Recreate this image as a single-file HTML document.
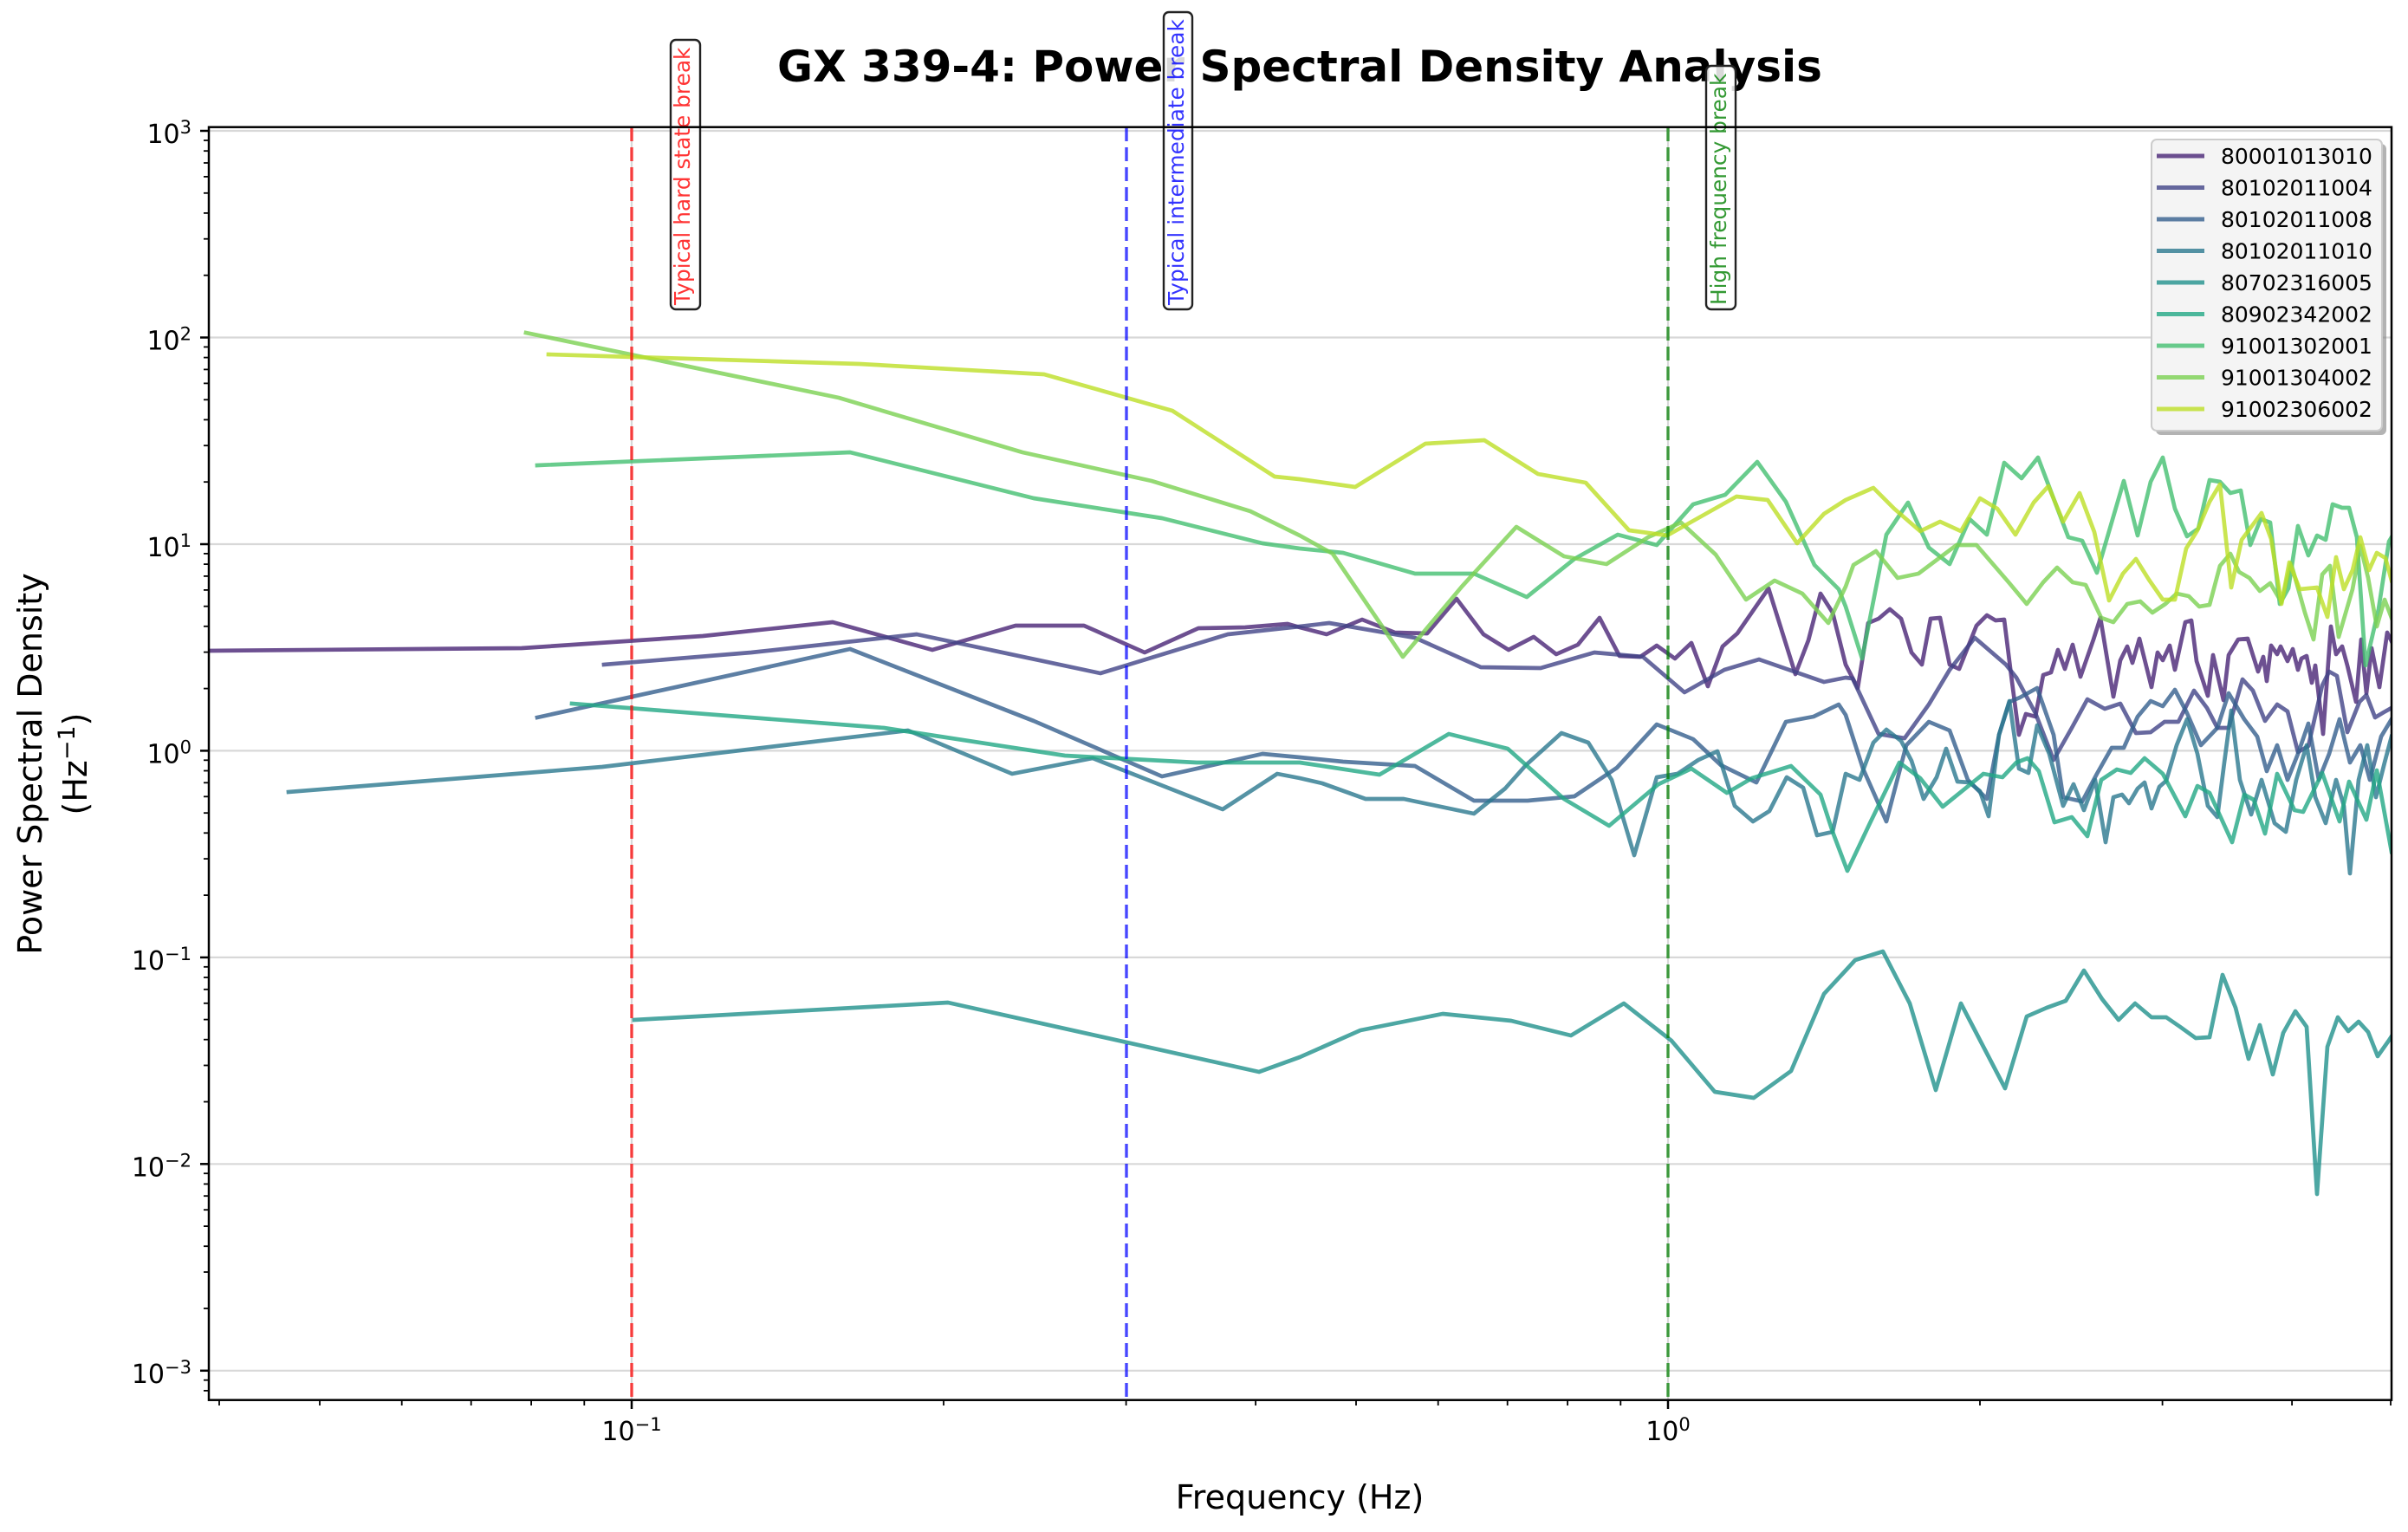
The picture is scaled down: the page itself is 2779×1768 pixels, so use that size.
<!DOCTYPE html>
<html>
<head>
<meta charset="utf-8">
<style>
  html, body { margin: 0; padding: 0; background: #ffffff; }
  body { width: 2779px; height: 1768px; overflow: hidden; }
  svg { display: block; font-family: "DejaVu Sans", "Liberation Sans", sans-serif; }
</style>
</head>
<body>
<svg width="2779" height="1768" viewBox="0 0 2779 1768" xmlns="http://www.w3.org/2000/svg">
  <defs>
    <clipPath id="ax">
      <rect x="241" y="147" width="2519" height="1469"/>
    </clipPath>
  </defs>
  <rect x="0" y="0" width="2779" height="1768" fill="#ffffff"/>

  <!-- Title -->
  <text x="1500" y="94" font-size="50" font-weight="bold" text-anchor="middle" fill="#000000">GX 339-4: Power Spectral Density Analysis</text>

  <!-- Grid -->
  <g stroke="#d8d8d8" stroke-width="2.2" fill="none">
    <line x1="241" y1="151" x2="2760" y2="151"/>
    <line x1="241" y1="389.5" x2="2760" y2="389.5"/>
    <line x1="241" y1="628" x2="2760" y2="628"/>
    <line x1="241" y1="866.4" x2="2760" y2="866.4"/>
    <line x1="241" y1="1104.9" x2="2760" y2="1104.9"/>
    <line x1="241" y1="1343.3" x2="2760" y2="1343.3"/>
    <line x1="241" y1="1581.8" x2="2760" y2="1581.8"/>
    <line x1="729" y1="147" x2="729" y2="1616"/>
    <line x1="1925" y1="147" x2="1925" y2="1616"/>
  </g>

  <!-- Series -->
  <g clip-path="url(#ax)" fill="none" stroke-width="4.7" stroke-opacity="0.8" stroke-linejoin="round" stroke-linecap="square">
    <polyline stroke="#482475" points="241,751 602,748 811,734 961,718 1076,750 1172,722 1251,722 1321,753 1383,725 1437,724 1486,720 1500,724 1531,732 1572,715 1610,730 1647,731 1681,691 1712,732 1741,750 1770,735 1796,755 1821,744 1846,713 1869,757 1893,758 1912,745 1933,760 1952,742 1971,792 1988,746 2005,731 2041,679 2072,778 2087,739 2101,685 2115,707 2130,767 2144,794 2156,719 2168,714 2181,703 2194,714 2206,753 2218,767 2228,714 2239,713 2250,767 2261,772 2281,722 2293,710 2303,716 2313,715 2322,787 2330,848 2338,824 2349,827 2358,779 2367,776 2375,750 2383,772 2392,744 2401,781 2416,738 2424,713 2439,804 2447,762 2455,746 2461,765 2469,737 2483,793 2490,753 2496,762 2504,745 2510,773 2522,718 2529,716 2535,763 2548,803 2554,756 2566,808 2572,756 2583,738 2594,737 2606,775 2612,758 2616,786 2621,745 2628,755 2632,746 2640,763 2646,749 2652,773 2656,760 2662,757 2668,788 2672,768 2681,847 2690,723 2696,755 2703,746 2709,768 2719,810 2725,738 2731,800 2737,748 2746,793 2755,730 2760,740"/>
    <polyline stroke="#414487" points="697,767 867,753 1058,732 1270,777 1417,732 1500,723 1534,719 1633,736 1709,770 1778,771 1840,753 1896,758 1944,799 1990,773 2030,761 2105,787 2130,782 2138,783 2168,847 2198,852 2226,813 2250,773 2279,736 2315,767 2327,782 2349,823 2370,877 2391,840 2409,807 2429,818 2447,812 2465,846 2482,845 2498,833 2514,833 2532,797 2547,817 2559,840 2572,840 2588,784 2600,797 2614,832 2628,813 2640,821 2652,868 2664,861 2680,791 2688,775 2697,780 2709,845 2723,810 2731,802 2741,828 2751,822 2760,817"/>
    <polyline stroke="#355f8d" points="620,828 981,749 1193,832 1341,896 1457,870 1500,874 1550,879 1633,884 1701,924 1763,924 1817,919 1866,886 1912,836 1954,853 1986,883 2027,903 2061,833 2093,827 2122,813 2130,825 2150,887 2177,948 2200,860 2226,833 2250,843 2271,900 2293,922 2307,848 2319,810 2331,805 2351,794 2370,848 2381,920 2403,925 2420,893 2437,863 2451,863 2467,827 2482,809 2496,815 2510,796 2524,823 2540,860 2559,840 2572,800 2590,830 2605,850 2616,890 2628,860 2640,900 2652,870 2664,835 2676,900 2688,870 2700,830 2712,880 2724,860 2735,900 2748,850 2760,830"/>
    <polyline stroke="#2a788e" points="333,914 695,885 1048,843 1168,893 1261,875 1411,934 1474,893 1500,898 1526,904 1576,922 1620,922 1701,939 1737,910 1761,883 1802,846 1833,857 1860,900 1886,987 1912,897 1936,893 1960,877 1982,867 2002,930 2023,948 2042,936 2062,897 2081,909 2097,964 2115,960 2130,893 2146,900 2162,857 2177,842 2194,855 2206,878 2220,922 2235,897 2246,864 2259,902 2273,903 2285,913 2295,942 2307,848 2319,809 2330,887 2341,892 2351,837 2365,870 2381,930 2393,905 2405,935 2418,900 2430,972 2439,920 2449,917 2457,927 2467,910 2475,903 2483,933 2492,908 2500,901 2512,860 2524,830 2536,870 2548,930 2559,943 2567,880 2575,820 2585,900 2598,940 2610,900 2625,950 2638,960 2650,900 2662,860 2672,920 2684,950 2696,900 2705,930 2712,1008 2722,900 2732,860 2742,920 2752,880 2760,850"/>
    <polyline stroke="#21918c" points="732,1177 1094,1157 1453,1237 1500,1220 1570,1189 1665,1170 1744,1178 1813,1195 1874,1158 1929,1201 1979,1260 2024,1267 2067,1236 2105,1147 2130,1120 2141,1108 2173,1098 2204,1158 2234,1258 2263,1158 2289,1208 2314,1256 2339,1173 2362,1163 2384,1155 2405,1120 2426,1153 2445,1177 2464,1158 2483,1174 2500,1174 2516,1185 2534,1198 2550,1197 2565,1125 2580,1163 2595,1222 2608,1183 2623,1240 2635,1192 2649,1167 2662,1185 2674,1378 2686,1208 2698,1174 2710,1190 2722,1179 2733,1191 2744,1219 2756,1202 2760,1196"/>
    <polyline stroke="#22a884" points="660,812 1020,840 1229,872 1381,880 1500,880 1592,894 1672,847 1740,864 1805,922 1857,953 1914,905 1952,887 1993,915 2022,898 2067,884 2101,917 2115,960 2132,1005 2158,950 2192,880 2216,898 2242,931 2289,893 2311,897 2327,880 2340,875 2353,890 2371,949 2391,943 2409,965 2425,900 2443,888 2459,892 2475,875 2496,893 2522,942 2536,907 2550,915 2576,972 2590,917 2601,923 2614,962 2628,893 2648,935 2658,937 2680,892 2700,948 2711,902 2731,946 2743,889 2760,983"/>
    <polyline stroke="#44bf70" points="620,537 981,522 1193,575 1341,598 1457,627 1500,633 1550,638 1633,662 1701,662 1762,689 1817,645 1867,617 1912,629 1954,582 1991,571 2028,533 2061,579 2094,652 2122,680 2130,700 2149,760 2177,617 2202,580 2226,632 2250,651 2273,599 2293,617 2313,534 2333,552 2352,528 2387,620 2403,624 2420,661 2451,555 2467,618 2482,556 2496,528 2510,587 2524,619 2537,610 2550,554 2562,556 2574,569 2586,566 2597,629 2609,599 2620,603 2631,697 2641,679 2652,607 2664,641 2674,618 2684,623 2692,582 2703,586 2711,586 2720,620 2730,768 2745,703 2757,625 2760,620"/>
    <polyline stroke="#7ad151" points="607,384 968,459 1180,522 1329,555 1443,590 1500,618 1538,639 1619,758 1687,677 1750,608 1805,642 1854,651 1902,620 1940,603 1980,640 2015,692 2048,670 2080,685 2110,719 2130,677 2139,652 2165,636 2190,667 2214,662 2258,629 2281,629 2319,673 2339,697 2358,672 2374,655 2392,672 2407,675 2425,713 2439,718 2455,697 2470,694 2484,707 2499,697 2512,685 2526,688 2538,700 2550,698 2562,653 2574,639 2584,660 2596,667 2608,682 2620,673 2633,695 2644,650 2660,707 2670,738 2680,663 2689,653 2699,735 2715,680 2724,630 2733,667 2743,723 2752,692 2760,713"/>
    <polyline stroke="#bddf26" points="633,409 992,420 1205,432 1353,474 1471,550 1500,553 1564,562 1645,512 1713,508 1775,547 1830,557 1880,612 1924,618 2004,573 2040,577 2074,627 2105,593 2130,577 2162,563 2186,587 2216,613 2239,602 2263,613 2285,575 2305,587 2326,617 2347,580 2364,561 2381,602 2400,569 2417,614 2434,693 2450,662 2465,645 2480,669 2496,692 2510,692 2523,633 2536,612 2550,579 2562,559 2575,678 2587,623 2610,592 2621,622 2633,697 2642,649 2654,680 2674,678 2686,712 2696,643 2705,680 2715,658 2724,620 2734,658 2743,638 2753,644 2760,670"/>
  </g>

  <!-- Break lines -->
  <g fill="none" stroke-width="3.4" stroke-dasharray="16,7">
    <line x1="729" y1="147" x2="729" y2="1616" stroke="#ff0000" stroke-opacity="0.72"/>
    <line x1="1300" y1="147" x2="1300" y2="1616" stroke="#0000ff" stroke-opacity="0.72"/>
    <line x1="1925" y1="147" x2="1925" y2="1616" stroke="#008000" stroke-opacity="0.72"/>
  </g>

  <!-- Annotation boxes -->
  <g stroke="#222222" stroke-width="2.4" fill="#ffffff" fill-opacity="0.85">
    <rect x="774" y="46" width="34" height="311" rx="6"/>
    <rect x="1343" y="14" width="33" height="343" rx="6"/>
    <rect x="1969" y="76" width="34" height="281" rx="6"/>
  </g>
  <g font-size="24.8">
    <text transform="translate(796,352) rotate(-90)" fill="#ff0000" fill-opacity="0.8">Typical hard state break</text>
    <text transform="translate(1366,352) rotate(-90)" fill="#0000ff" fill-opacity="0.8">Typical intermediate break</text>
    <text transform="translate(1992,352) rotate(-90)" fill="#008000" fill-opacity="0.8">High frequency break</text>
  </g>

  <!-- Spines -->
  <rect x="241" y="146.7" width="2519" height="1469" fill="none" stroke="#000000" stroke-width="2.5"/>

  <!-- Y ticks -->
  <g stroke="#000000" stroke-width="2.5">
    <line x1="231" y1="151" x2="241" y2="151"/>
    <line x1="231" y1="389.5" x2="241" y2="389.5"/>
    <line x1="231" y1="628" x2="241" y2="628"/>
    <line x1="231" y1="866.4" x2="241" y2="866.4"/>
    <line x1="231" y1="1104.9" x2="241" y2="1104.9"/>
    <line x1="231" y1="1343.3" x2="241" y2="1343.3"/>
    <line x1="231" y1="1581.8" x2="241" y2="1581.8"/>
  </g>
  <g stroke="#000000" stroke-width="1.8">
    <line x1="235" y1="317.7" x2="241" y2="317.7"/><line x1="235" y1="275.7" x2="241" y2="275.7"/><line x1="235" y1="245.9" x2="241" y2="245.9"/><line x1="235" y1="222.8" x2="241" y2="222.8"/><line x1="235" y1="203.9" x2="241" y2="203.9"/><line x1="235" y1="188" x2="241" y2="188"/><line x1="235" y1="174.2" x2="241" y2="174.2"/><line x1="235" y1="162" x2="241" y2="162"/>
    <line x1="235" y1="556.2" x2="241" y2="556.2"/><line x1="235" y1="514.2" x2="241" y2="514.2"/><line x1="235" y1="484.4" x2="241" y2="484.4"/><line x1="235" y1="461.3" x2="241" y2="461.3"/><line x1="235" y1="442.4" x2="241" y2="442.4"/><line x1="235" y1="426.4" x2="241" y2="426.4"/><line x1="235" y1="412.6" x2="241" y2="412.6"/><line x1="235" y1="400.4" x2="241" y2="400.4"/>
    <line x1="235" y1="794.6" x2="241" y2="794.6"/><line x1="235" y1="752.6" x2="241" y2="752.6"/><line x1="235" y1="722.8" x2="241" y2="722.8"/><line x1="235" y1="699.7" x2="241" y2="699.7"/><line x1="235" y1="680.9" x2="241" y2="680.9"/><line x1="235" y1="664.9" x2="241" y2="664.9"/><line x1="235" y1="651.1" x2="241" y2="651.1"/><line x1="235" y1="638.9" x2="241" y2="638.9"/>
    <line x1="235" y1="1033.1" x2="241" y2="1033.1"/><line x1="235" y1="991.1" x2="241" y2="991.1"/><line x1="235" y1="961.3" x2="241" y2="961.3"/><line x1="235" y1="938.2" x2="241" y2="938.2"/><line x1="235" y1="919.3" x2="241" y2="919.3"/><line x1="235" y1="903.3" x2="241" y2="903.3"/><line x1="235" y1="889.5" x2="241" y2="889.5"/><line x1="235" y1="877.3" x2="241" y2="877.3"/>
    <line x1="235" y1="1271.5" x2="241" y2="1271.5"/><line x1="235" y1="1229.5" x2="241" y2="1229.5"/><line x1="235" y1="1199.7" x2="241" y2="1199.7"/><line x1="235" y1="1176.6" x2="241" y2="1176.6"/><line x1="235" y1="1157.8" x2="241" y2="1157.8"/><line x1="235" y1="1141.8" x2="241" y2="1141.8"/><line x1="235" y1="1128" x2="241" y2="1128"/><line x1="235" y1="1115.8" x2="241" y2="1115.8"/>
    <line x1="235" y1="1510" x2="241" y2="1510"/><line x1="235" y1="1468" x2="241" y2="1468"/><line x1="235" y1="1438.2" x2="241" y2="1438.2"/><line x1="235" y1="1415.1" x2="241" y2="1415.1"/><line x1="235" y1="1396.2" x2="241" y2="1396.2"/><line x1="235" y1="1380.2" x2="241" y2="1380.2"/><line x1="235" y1="1366.4" x2="241" y2="1366.4"/><line x1="235" y1="1354.2" x2="241" y2="1354.2"/>
    <line x1="235" y1="1592.7" x2="241" y2="1592.7"/><line x1="235" y1="1604.9" x2="241" y2="1604.9"/>
  </g>

  <!-- X ticks -->
  <g stroke="#000000" stroke-width="2.5">
    <line x1="729" y1="1616" x2="729" y2="1626"/>
    <line x1="1925" y1="1616" x2="1925" y2="1626"/>
  </g>
  <g stroke="#000000" stroke-width="1.8">
    <line x1="253" y1="1616" x2="253" y2="1622"/><line x1="369" y1="1616" x2="369" y2="1622"/><line x1="463.7" y1="1616" x2="463.7" y2="1622"/><line x1="543.7" y1="1616" x2="543.7" y2="1622"/><line x1="613.1" y1="1616" x2="613.1" y2="1622"/><line x1="674.3" y1="1616" x2="674.3" y2="1622"/>
    <line x1="1089" y1="1616" x2="1089" y2="1622"/><line x1="1299.6" y1="1616" x2="1299.6" y2="1622"/><line x1="1449.1" y1="1616" x2="1449.1" y2="1622"/><line x1="1565" y1="1616" x2="1565" y2="1622"/><line x1="1659.7" y1="1616" x2="1659.7" y2="1622"/><line x1="1739.7" y1="1616" x2="1739.7" y2="1622"/><line x1="1809.1" y1="1616" x2="1809.1" y2="1622"/><line x1="1870.3" y1="1616" x2="1870.3" y2="1622"/>
    <line x1="2285" y1="1616" x2="2285" y2="1622"/><line x1="2495.6" y1="1616" x2="2495.6" y2="1622"/><line x1="2645.1" y1="1616" x2="2645.1" y2="1622"/><line x1="2759" y1="1616" x2="2759" y2="1622"/>
  </g>

  <!-- Y tick labels -->
  <g font-size="30" fill="#000000" text-anchor="end">
    <text x="221" y="165">10<tspan font-size="21" dy="-11">3</tspan></text>
    <text x="221" y="403.5">10<tspan font-size="21" dy="-11">2</tspan></text>
    <text x="221" y="642">10<tspan font-size="21" dy="-11">1</tspan></text>
    <text x="221" y="880.4">10<tspan font-size="21" dy="-11">0</tspan></text>
    <text x="221" y="1118.9">10<tspan font-size="21" dy="-11">−1</tspan></text>
    <text x="221" y="1357.3">10<tspan font-size="21" dy="-11">−2</tspan></text>
    <text x="221" y="1595.8">10<tspan font-size="21" dy="-11">−3</tspan></text>
  </g>

  <!-- X tick labels -->
  <g font-size="30" fill="#000000" text-anchor="middle">
    <text x="729" y="1662">10<tspan font-size="21" dy="-11">−1</tspan></text>
    <text x="1925" y="1662">10<tspan font-size="21" dy="-11">0</tspan></text>
  </g>

  <!-- Axis labels -->
  <text x="1500" y="1741" font-size="38" text-anchor="middle" fill="#000000">Frequency (Hz)</text>
  <text transform="translate(48,881.5) rotate(-90)" font-size="38" text-anchor="middle" fill="#000000">Power Spectral Density</text>
  <text transform="translate(100,881.5) rotate(-90)" font-size="38" text-anchor="middle" fill="#000000">(Hz<tspan font-size="27" dy="-14">−1</tspan><tspan dy="14">)</tspan></text>

  <!-- Legend -->
  <rect x="2488" y="166" width="266" height="336" rx="6" fill="#808080" fill-opacity="0.6"/>
  <rect x="2483" y="161" width="266" height="336" rx="6" fill="#f4f4f4" stroke="#cccccc" stroke-width="2"/>
  <g stroke-width="5" stroke-opacity="0.8">
    <line x1="2489" y1="180" x2="2544" y2="180" stroke="#482475"/>
    <line x1="2489" y1="216.5" x2="2544" y2="216.5" stroke="#414487"/>
    <line x1="2489" y1="253" x2="2544" y2="253" stroke="#355f8d"/>
    <line x1="2489" y1="289.5" x2="2544" y2="289.5" stroke="#2a788e"/>
    <line x1="2489" y1="326" x2="2544" y2="326" stroke="#21918c"/>
    <line x1="2489" y1="362.5" x2="2544" y2="362.5" stroke="#22a884"/>
    <line x1="2489" y1="399" x2="2544" y2="399" stroke="#44bf70"/>
    <line x1="2489" y1="435.5" x2="2544" y2="435.5" stroke="#7ad151"/>
    <line x1="2489" y1="472" x2="2544" y2="472" stroke="#bddf26"/>
  </g>
  <g font-size="25" fill="#000000">
    <text x="2563" y="189">80001013010</text>
    <text x="2563" y="225.5">80102011004</text>
    <text x="2563" y="262">80102011008</text>
    <text x="2563" y="298.5">80102011010</text>
    <text x="2563" y="335">80702316005</text>
    <text x="2563" y="371.5">80902342002</text>
    <text x="2563" y="408">91001302001</text>
    <text x="2563" y="444.5">91001304002</text>
    <text x="2563" y="481">91002306002</text>
  </g>
</svg>
</body>
</html>
